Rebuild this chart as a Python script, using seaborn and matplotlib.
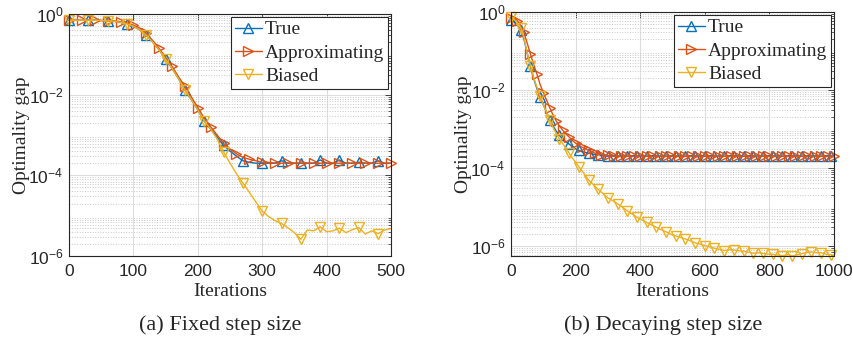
import numpy as np
import pandas as pd
import matplotlib
matplotlib.use("Agg")
import matplotlib.pyplot as plt
import matplotlib.ticker as mticker
import seaborn as sns

# ---------------- data ----------------
iters_a = list(range(0, 501, 10))
true_a = [0.70, 0.70, 0.70, 0.71, 0.70, 0.69, 0.68, 0.66, 0.62, 0.58,
          0.50, 0.40, 0.30, 0.20, 0.13, 0.075, 0.045, 0.025, 0.013, 0.0075,
          0.0042, 0.0022, 0.0014, 0.00090, 0.00055, 0.00040, 0.00030, 0.00023, 0.00021, 0.00020,
          0.00020, 0.00020, 0.00020, 0.00023, 0.00020, 0.00020, 0.00020, 0.00020, 0.00020, 0.00024,
          0.00020, 0.00020, 0.00024, 0.00020, 0.00020, 0.00021, 0.00020, 0.00020, 0.00023, 0.00020,
          0.00020]
approx_a = [0.70, 0.70, 0.70, 0.70, 0.70, 0.69, 0.68, 0.67, 0.64, 0.60,
            0.53, 0.45, 0.33, 0.22, 0.14, 0.085, 0.050, 0.028, 0.016, 0.0088,
            0.0048, 0.0026, 0.0016, 0.0010, 0.00062, 0.00045, 0.00034, 0.00028, 0.00025, 0.00023,
            0.00021, 0.00021, 0.00020, 0.00020, 0.00020, 0.00020, 0.00020, 0.00020, 0.00020, 0.00020,
            0.00020, 0.00020, 0.00020, 0.00020, 0.00020, 0.00020, 0.00020, 0.00020, 0.00020, 0.00020,
            0.00020]
biased_a = [0.70, 0.70, 0.70, 0.70, 0.70, 0.69, 0.68, 0.66, 0.62, 0.57,
            0.50, 0.40, 0.30, 0.20, 0.13, 0.075, 0.045, 0.025, 0.013, 0.0075,
            0.0042, 0.0022, 0.0014, 0.00080, 0.00038, 0.00020, 0.00011, 0.000065, 0.000038, 0.000022,
            0.000013, 0.0000095, 0.0000075, 0.0000064, 0.0000050, 0.0000038, 0.0000026, 0.0000044, 0.0000042, 0.0000053,
            0.0000040, 0.0000042, 0.0000049, 0.0000038, 0.0000045, 0.0000051, 0.0000035, 0.0000042, 0.0000036, 0.0000044,
            0.0000048]

iters_b = list(range(0, 1001, 10))
true_b = [0.62, 0.55, 0.45, 0.34, 0.20, 0.090, 0.040, 0.020, 0.011, 0.0065,
          0.0042, 0.0027, 0.0017, 0.0012, 0.00088, 0.00068, 0.00055, 0.00047, 0.00041, 0.00035,
          0.00031, 0.00028, 0.00026, 0.00025, 0.00024, 0.00023, 0.00022, 0.00022, 0.00021, 0.00021,
          0.00020, 0.00020, 0.00021, 0.00020, 0.00020, 0.00021, 0.00020, 0.00020, 0.00021, 0.00020,
          0.00020, 0.00021, 0.00020, 0.00020, 0.00021, 0.00020, 0.00020, 0.00021, 0.00020, 0.00020,
          0.00021, 0.00020, 0.00020, 0.00021, 0.00020, 0.00020, 0.00021, 0.00020, 0.00020, 0.00021,
          0.00020, 0.00020, 0.00021, 0.00020, 0.00020, 0.00021, 0.00020, 0.00020, 0.00021, 0.00020,
          0.00020, 0.00021, 0.00020, 0.00020, 0.00021, 0.00020, 0.00020, 0.00021, 0.00020, 0.00020,
          0.00021, 0.00020, 0.00020, 0.00021, 0.00020, 0.00020, 0.00021, 0.00020, 0.00020, 0.00021,
          0.00020, 0.00020, 0.00021, 0.00020, 0.00020, 0.00021, 0.00020, 0.00020, 0.00021, 0.00020,
          0.00020]
approx_b = [0.72, 0.70, 0.60, 0.45, 0.30, 0.16, 0.085, 0.045, 0.026, 0.014,
            0.0085, 0.0055, 0.0035, 0.0023, 0.0016, 0.0012, 0.00092, 0.00075, 0.00062, 0.00051,
            0.00043, 0.00038, 0.00034, 0.00031, 0.00028, 0.00026, 0.00024, 0.00023, 0.00022, 0.00021,
            0.00021, 0.00020, 0.00020, 0.00020, 0.00020, 0.00020, 0.00020, 0.00020, 0.00020, 0.00020,
            0.00020, 0.00020, 0.00020, 0.00020, 0.00020, 0.00020, 0.00020, 0.00020, 0.00020, 0.00020,
            0.00020, 0.00020, 0.00020, 0.00020, 0.00020, 0.00020, 0.00020, 0.00020, 0.00020, 0.00020,
            0.00020, 0.00020, 0.00020, 0.00020, 0.00020, 0.00020, 0.00020, 0.00020, 0.00020, 0.00020,
            0.00020, 0.00020, 0.00020, 0.00020, 0.00020, 0.00020, 0.00020, 0.00020, 0.00020, 0.00020,
            0.00020, 0.00020, 0.00020, 0.00020, 0.00020, 0.00020, 0.00020, 0.00020, 0.00020, 0.00020,
            0.00020, 0.00020, 0.00020, 0.00020, 0.00020, 0.00020, 0.00020, 0.00020, 0.00020, 0.00020,
            0.00020]
biased_b = [0.75, 0.65, 0.52, 0.40, 0.22, 0.090, 0.042, 0.021, 0.012, 0.0068,
            0.0042, 0.0027, 0.0017, 0.0011, 0.00075, 0.00056, 0.00042, 0.00032, 0.00024, 0.00018,
            0.00014, 0.000107, 0.000085, 0.000064, 0.000049, 0.000041, 0.000034, 0.000028, 0.000024, 0.000020,
            0.000017, 0.0000153, 0.0000136, 0.0000120, 0.0000105, 0.0000091, 0.0000079, 0.0000070, 0.0000062, 0.0000054,
            0.0000049, 0.0000044, 0.0000040, 0.0000036, 0.0000033, 0.0000030, 0.0000027, 0.0000025, 0.0000023, 0.0000021,
            0.0000019, 0.0000018, 0.0000017, 0.0000016, 0.0000015, 0.0000014, 0.0000013, 0.0000012, 0.00000115, 0.00000108,
            0.00000102, 0.00000097, 0.00000092, 0.00000087, 0.00000083, 0.00000080, 0.00000076, 0.00000078, 0.00000080, 0.00000079,
            0.00000076, 0.00000074, 0.00000073, 0.00000070, 0.00000068, 0.00000065, 0.00000066, 0.00000066, 0.00000064, 0.00000062,
            0.00000061, 0.00000061, 0.00000059, 0.00000058, 0.00000056, 0.00000058, 0.00000060, 0.00000055, 0.00000057, 0.00000060,
            0.00000063, 0.00000066, 0.00000069, 0.00000070, 0.00000068, 0.00000066, 0.00000067, 0.00000063, 0.00000060, 0.00000060,
            0.00000057]

labels = ["True", "Approximating", "Biased"]
colors = ["#0072BD", "#D95319", "#EDB120"]
markers = ["^", ">", "v"]
mark_every = [3, 2, 3]
captions = ["(a) Fixed step size", "(b) Decaying step size"]

# ---------------- style ----------------
sns.set_style("white")
plt.rcParams["font.family"] = ["Liberation Serif", "DejaVu Serif"]
plt.rcParams["mathtext.default"] = "regular"

fig = plt.figure(figsize=(8.54, 3.41), dpi=100)
ax_a = fig.add_axes([69/854, 1-256/341, (391-69)/854, (256-14)/341])
ax_b = fig.add_axes([511/854, 1-256/341, (834-511)/854, (256-12)/341])

panels = [
    (ax_a, iters_a, [true_a, approx_a, biased_a], (0, 500), list(range(0, 501, 100)), (1e-6, 1.0)),
    (ax_b, iters_b, [true_b, approx_b, biased_b], (0, 1000), list(range(0, 1001, 200)), (5.5e-7, 1.0)),
]

for (ax, iters, series, xlim, xticks, ylim), cap in zip(panels, captions):
    ax.set_yscale("log")
    for vals, lab, col, mk, me in zip(series, labels, colors, markers, mark_every):
        df = pd.DataFrame({"Iterations": iters, "gap": vals})
        sns.lineplot(data=df, x="Iterations", y="gap", ax=ax, color=col, label=lab,
                     marker=mk, markevery=me, markersize=6.5, markerfacecolor="none",
                     markeredgecolor=col, markeredgewidth=1.0, linewidth=1.0,
                     errorbar=None, clip_on=False)
    ax.set_xlim(*xlim)
    ax.set_ylim(*ylim)
    ax.set_xticks(xticks)
    ax.set_yticks([1e-6, 1e-4, 1e-2, 1.0])
    ax.yaxis.set_minor_locator(mticker.LogLocator(base=10, subs=np.arange(2, 10), numticks=20))
    ax.yaxis.set_minor_formatter(mticker.NullFormatter())
    ax.set_yticklabels(["$10^{-6}$", "$10^{-4}$", "$10^{-2}$", "$10^{0}$"])
    for t in ax.get_xticklabels() + ax.get_yticklabels():
        t.set_fontfamily("Liberation Sans")
        t.set_fontsize(12.5)
        t.set_color("#262626")
    ax.tick_params(which="both", direction="in", top=True, right=True, color="#262626")
    ax.tick_params(which="major", length=4, width=0.6)
    ax.tick_params(axis="x", which="major", pad=6)
    ax.tick_params(axis="y", which="major", pad=4)
    ax.tick_params(which="minor", length=2, width=0.5)
    ax.grid(True, which="major", color="#dedede", linewidth=0.8)
    ax.grid(True, which="minor", axis="y", color="#c8c8c8", linestyle=":", linewidth=0.7)
    ax.set_axisbelow(True)
    for s in ax.spines.values():
        s.set_color("#262626")
        s.set_linewidth(0.8)
    ax.set_xlabel("Iterations", fontsize=14, labelpad=3, color="#262626")
    ax.set_ylabel("Optimality gap", fontsize=14, labelpad=-1, color="#262626")
    leg = ax.legend(loc="upper right", fontsize=14, frameon=True, fancybox=False,
                    edgecolor="#262626", framealpha=1, borderaxespad=0.15,
                    handlelength=1.4, handletextpad=0.15, labelspacing=0.3,
                    borderpad=0.2)
    leg.get_frame().set_linewidth(0.8)
    pos = ax.get_position()
    fig.text((pos.x0 + pos.x1) / 2 - 0.011, 1 - 325/341, cap, ha="center", va="center", fontsize=16)

fig.savefig("out.png", dpi=100)
